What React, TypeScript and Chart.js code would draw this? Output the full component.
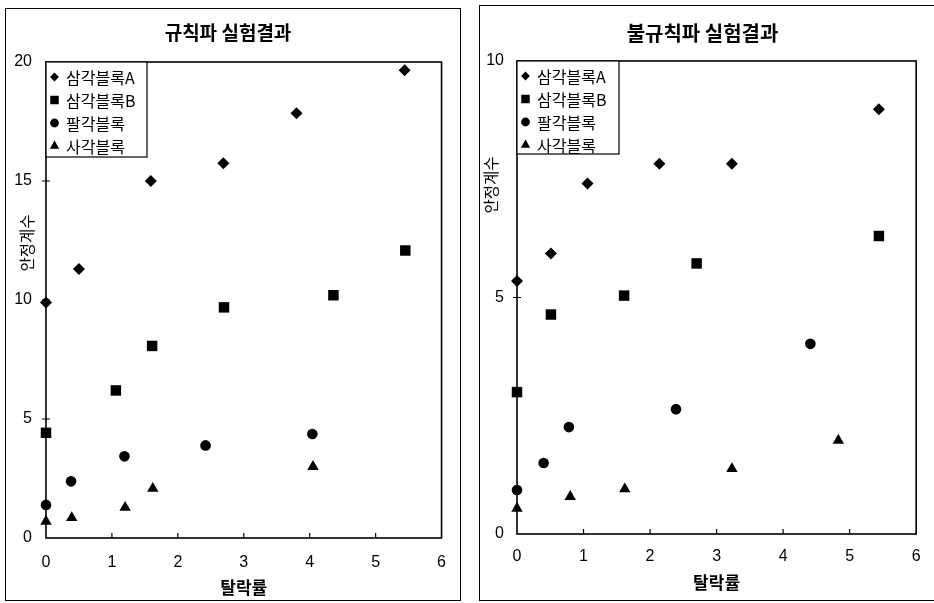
import React, { useEffect, useRef } from 'react';
import { Chart, registerables } from 'chart.js';

Chart.register(...registerables);

const FONT_KR = '"Noto Sans CJK KR", "Noto Sans", sans-serif';
const FONT_NUM = '"Liberation Sans", Arial, sans-serif';

// ---- text ----
const regularTitle = '규칙파 실험결과';
const irregularTitle = '불규칙파 실험결과';
const xAxisLabel = '탈락률';
const yAxisLabel = '안정계수';
const seriesNames = ['삼각블록A', '삼각블록B', '팔각블록', '사각블록'];
const seriesStyles = ['rectRot', 'rect', 'circle', 'triangle'];

// ---- axis ranges ----
const xMin = 0;
const xMax = 6;
const xStep = 1;
const regularYMax = 20;
const irregularYMax = 10;
const yStep = 5;

// ---- 규칙파 (regular waves) ----
const regA_x = [0, 0.5, 1.59, 2.69, 3.8, 5.44];
const regA_y = [9.9, 11.3, 15.0, 15.75, 17.85, 19.65];
const regB_x = [0, 1.06, 1.61, 2.7, 4.36, 5.45];
const regB_y = [4.42, 6.2, 8.07, 9.69, 10.2, 12.08];
const regOct_x = [0, 0.38, 1.19, 2.42, 4.04];
const regOct_y = [1.39, 2.38, 3.43, 3.89, 4.37];
const regSq_x = [0, 0.39, 1.2, 1.62, 4.05];
const regSq_y = [0.7, 0.85, 1.28, 2.08, 3.0];

// ---- 불규칙파 (irregular waves) ----
const irrA_x = [0, 0.51, 1.06, 2.14, 3.23, 5.44];
const irrA_y = [5.35, 5.93, 7.41, 7.83, 7.83, 8.98];
const irrB_x = [0, 0.51, 1.61, 2.7, 5.44];
const irrB_y = [3.0, 4.64, 5.04, 5.72, 6.3];
const irrOct_x = [0, 0.4, 0.78, 2.39, 4.41];
const irrOct_y = [0.93, 1.5, 2.26, 2.64, 4.02];
const irrSq_x = [0, 0.8, 1.62, 3.23, 4.83];
const irrSq_y = [0.54, 0.79, 0.95, 1.38, 1.98];

const pointRadii = [6, 7.4, 5.3, 6.6];
const legendRadii = [4.4, 6, 4.4, 5.4];

function drawMarker(ctx: CanvasRenderingContext2D, style: string, x: number, y: number, r: number) {
  ctx.beginPath();
  if (style === 'rectRot') {
    ctx.moveTo(x - r, y);
    ctx.lineTo(x, y - r);
    ctx.lineTo(x + r, y);
    ctx.lineTo(x, y + r);
    ctx.closePath();
  } else if (style === 'rect') {
    const s = r * Math.SQRT1_2;
    ctx.rect(x - s, y - s, 2 * s, 2 * s);
  } else if (style === 'circle') {
    ctx.arc(x, y, r, 0, Math.PI * 2);
  } else {
    ctx.moveTo(x, y - r);
    ctx.lineTo(x + 0.866 * r, y + 0.5 * r);
    ctx.lineTo(x - 0.866 * r, y + 0.5 * r);
    ctx.closePath();
  }
  ctx.fillStyle = '#000';
  ctx.fill();
}

type PanelCfg = {
  left: number;
  top: number;
  width: number;
  height: number;
  title: string;
  titleSize: number;
  titlePadTop: number;
  titlePadBottom: number;
  yMax: number;
  yAxisWidth: number;
  yTickPad: number;
  xAxisHeight: number;
  xTickPad: number;
  xTitlePadBottom: number;
  padRight: number;
  yTitleX: number;
  yTitleY: number;
  legendW: number;
  legendH: number;
  xs: number[][];
  ys: number[][];
};

const panels: PanelCfg[] = [
  {
    left: 5, top: 8, width: 456, height: 593,
    title: regularTitle, titleSize: 19, titlePadTop: 13.6, titlePadBottom: 17.6,
    yMax: regularYMax, yAxisWidth: 41, yTickPad: 14,
    xAxisHeight: 63, xTickPad: 15, xTitlePadBottom: 3,
    padRight: 10, yTitleX: 22, yTitleY: 235, legendW: 101, legendH: 95,
    xs: [regA_x, regB_x, regOct_x, regSq_x],
    ys: [regA_y, regB_y, regOct_y, regSq_y],
  },
  {
    left: 480, top: 5, width: 454, height: 595,
    title: irregularTitle, titleSize: 20, titlePadTop: 16, titlePadBottom: 16,
    yMax: irregularYMax, yAxisWidth: 37, yTickPad: 13,
    xAxisHeight: 66, xTickPad: 13.4, xTitlePadBottom: 7,
    padRight: 9, yTitleX: 11, yTitleY: 180, legendW: 102, legendH: 93,
    xs: [irrA_x, irrB_x, irrOct_x, irrSq_x],
    ys: [irrA_y, irrB_y, irrOct_y, irrSq_y],
  },
];

function Panel({ cfg }: { cfg: PanelCfg }) {
  const ref = useRef<HTMLCanvasElement>(null);
  useEffect(() => {
    if (!ref.current) return;
    const datasets = seriesNames.map((name, i) => ({
      label: name,
      data: cfg.xs[i].map((x, j) => ({ x, y: cfg.ys[i][j] })),
      pointStyle: seriesStyles[i] as any,
      pointRadius: pointRadii[i],
      backgroundColor: '#000',
      borderColor: '#000',
      borderWidth: 0,
      showLine: false,
      clip: false as any,
    }));

    const framePlugin = {
      id: 'frame',
      beforeDatasetsDraw(chart: any) {
        const { ctx, chartArea: a, scales } = chart;
        ctx.save();
        ctx.strokeStyle = '#000';
        ctx.lineWidth = 1.6;
        ctx.strokeRect(a.left, a.top, a.right - a.left, a.bottom - a.top);
        ctx.lineWidth = 1.2;
        ctx.beginPath();
        scales.x.ticks.forEach((t: any) => {
          if (t.value <= xMin || t.value >= xMax) return;
          const px = scales.x.getPixelForValue(t.value);
          ctx.moveTo(px, a.bottom);
          ctx.lineTo(px, a.bottom - 5);
        });
        scales.y.ticks.forEach((t: any) => {
          if (t.value <= 0 || t.value >= cfg.yMax) return;
          const py = scales.y.getPixelForValue(t.value);
          ctx.moveTo(a.left - 4, py);
          ctx.lineTo(a.left + 4, py);
        });
        ctx.stroke();
        ctx.restore();
      },
      afterDatasetsDraw(chart: any) {
        const { ctx, chartArea: a } = chart;
        ctx.save();
        ctx.fillStyle = '#fff';
        ctx.fillRect(a.left, a.top, cfg.legendW, cfg.legendH);
        ctx.strokeStyle = '#000';
        ctx.lineWidth = 1.2;
        ctx.strokeRect(a.left, a.top, cfg.legendW, cfg.legendH);
        ctx.font = `16px ${FONT_KR}`;
        ctx.textBaseline = 'middle';
        ctx.textAlign = 'left';
        chart.data.datasets.forEach((ds: any, i: number) => {
          const cy = a.top + 15 + i * 23;
          drawMarker(ctx, seriesStyles[i], a.left + 8.5, cy, legendRadii[i]);
          ctx.fillStyle = '#000';
          ctx.fillText(ds.label, a.left + 20, cy + 1);
        });
        ctx.restore();
      },
      afterDraw(chart: any) {
        const { ctx } = chart;
        ctx.save();
        ctx.translate(cfg.yTitleX, cfg.yTitleY);
        ctx.rotate(-Math.PI / 2);
        ctx.font = `15.5px ${FONT_KR}`;
        ctx.fillStyle = '#000';
        ctx.textAlign = 'center';
        ctx.textBaseline = 'middle';
        ctx.fillText(yAxisLabel, 0, 0);
        ctx.restore();
      },
    };

    const chart = new Chart(ref.current, {
      type: 'scatter',
      data: { datasets: datasets as any },
      options: {
        responsive: false,
        maintainAspectRatio: false,
        animation: false,
        layout: { padding: { left: 0, right: cfg.padRight, top: 0, bottom: 0 } },
        plugins: {
          legend: { display: false },
          tooltip: { enabled: false },
          title: {
            display: true,
            text: cfg.title,
            color: '#000',
            font: { family: FONT_KR, size: cfg.titleSize, weight: 'bold' },
            padding: { top: cfg.titlePadTop, bottom: cfg.titlePadBottom },
          },
        },
        scales: {
          x: {
            type: 'linear',
            min: xMin,
            max: xMax,
            ticks: {
              stepSize: xStep,
              color: '#000',
              font: { family: FONT_NUM, size: 16 },
              padding: cfg.xTickPad,
            },
            grid: { display: false, drawTicks: false },
            border: { display: false },
            title: {
              display: true,
              text: xAxisLabel,
              color: '#000',
              font: { family: FONT_KR, size: 17, weight: 'bold' },
              padding: { top: 0, bottom: cfg.xTitlePadBottom },
            },
            afterFit: (s: any) => {
              s.height = cfg.xAxisHeight;
            },
          },
          y: {
            type: 'linear',
            min: 0,
            max: cfg.yMax,
            ticks: {
              stepSize: yStep,
              color: '#000',
              font: { family: FONT_NUM, size: 16 },
              padding: cfg.yTickPad,
            },
            grid: { display: false, drawTicks: false },
            border: { display: false },
            afterFit: (s: any) => {
              s.width = cfg.yAxisWidth;
            },
          },
        },
      } as any,
      plugins: [framePlugin],
    });
    return () => chart.destroy();
  }, [cfg]);

  return (
    <canvas
      ref={ref}
      width={cfg.width}
      height={cfg.height}
      style={{ position: 'absolute', left: cfg.left, top: cfg.top, width: cfg.width, height: cfg.height }}
    />
  );
}

export default function App() {
  return (
    <div style={{ position: 'fixed', left: 0, top: 0, width: 934, height: 603, background: '#fff', overflow: 'hidden' }}>
      <div style={{ position: 'absolute', left: 5, top: 8, width: 456, height: 593, boxSizing: 'border-box', border: '1.5px solid #000' }} />
      <div style={{ position: 'absolute', left: 479, top: 5, width: 460, height: 596, boxSizing: 'border-box', border: '1.5px solid #000', borderRight: 'none' }} />
      {panels.map((p, i) => (
        <Panel key={i} cfg={p} />
      ))}
    </div>
  );
}
